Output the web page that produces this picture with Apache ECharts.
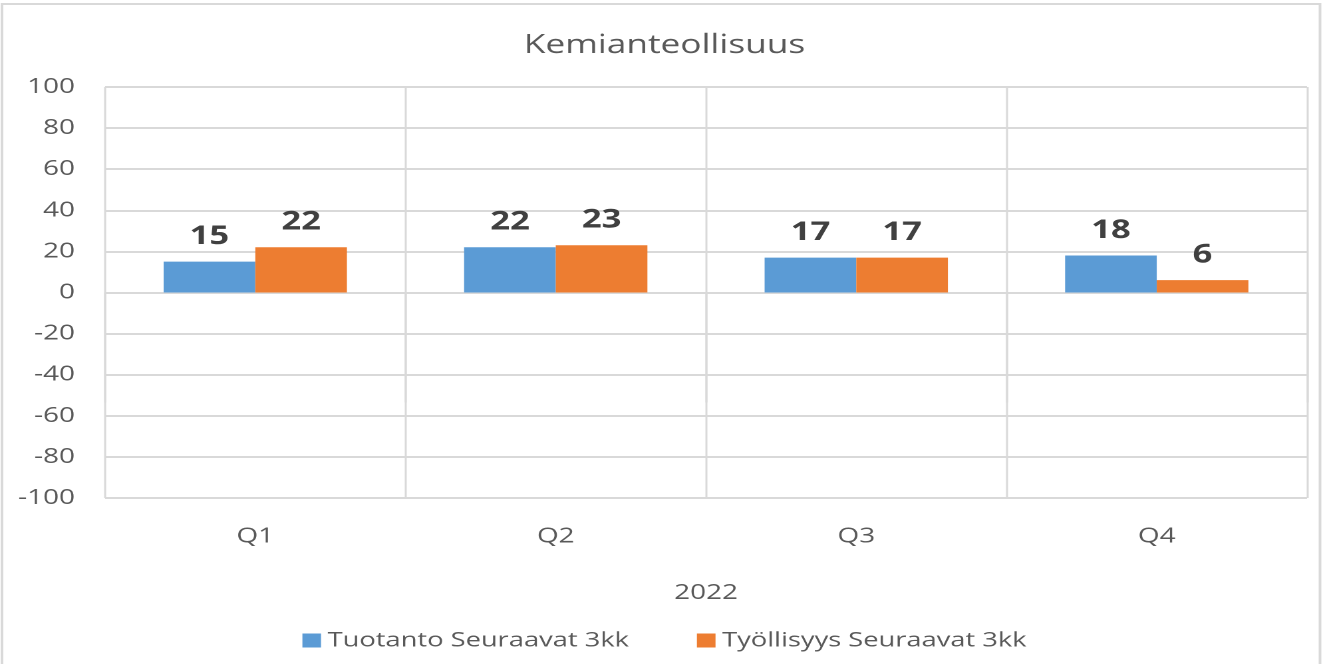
<!DOCTYPE html>
<html><head><meta charset="utf-8">
<script src="https://cdn.jsdelivr.net/npm/echarts@6/dist/echarts.min.js"></script>
<style>
html,body{margin:0;padding:0;background:#fff;overflow:hidden}
#c{width:999px;height:664px;transform:scaleX(1.3303);transform-origin:0 0}
</style>
</head><body><div id="c"></div>
<script>
const categories = ['Q1','Q2','Q3','Q4'];
const groupLabel = '2022';
const seriesNames = ['Tuotanto Seuraavat 3kk','Työllisyys Seuraavat 3kk'];
const tuotanto = [15, 22, 17, 18];
const tyollisyys = [22, 23, 17, 6];
const titleText = 'Kemianteollisuus';

const FONT = 'Open Sans';
const S = 1.3303; // horizontal stretch applied to the whole chart
const X = v => v / S;
const chart = echarts.init(document.getElementById('c'), null, {devicePixelRatio: 2});
const labelStyle = {show:true, position:'top', fontFamily:FONT, fontWeight:'bold', fontSize:26, color:'#404040', distance:12};
chart.setOption({
  animation:false,
  textStyle:{fontFamily:FONT},
  title:{text:titleText, left:'center', top:27, textStyle:{fontFamily:FONT, fontWeight:'normal', fontSize:26.5, color:'#595959'}},
  grid:{left:X(105), right:999 - X(1307), top:87, bottom:664-498, containLabel:false},
  legend:{top:625, left:'center', itemWidth:14, itemHeight:14, itemGap:X(68), icon:'rect',
    textStyle:{fontFamily:FONT, fontSize:20.5, color:'#595959'}},
  xAxis:{type:'category', data:categories,
    axisLine:{show:false},
    axisTick:{show:true, length:110, lineStyle:{color:'#d9d9d9', width:1.5}},
    splitLine:{show:true, lineStyle:{color:'#d9d9d9', width:1.5}},
    axisLabel:{fontFamily:FONT, fontSize:21, color:'#595959', margin:28}},
  yAxis:{type:'value', min:-100, max:100, interval:20,
    axisLine:{show:false}, axisTick:{show:false},
    splitLine:{lineStyle:{color:'#d9d9d9', width:2}},
    axisLabel:{fontFamily:FONT, fontSize:21, color:'#595959', margin:X(30)}},
  graphic:[
    {type:'rect', shape:{x:X(2), y:4, width:X(1318), height:700}, style:{fill:'none', stroke:'#d9d9d9', lineWidth:2}, z:-1},
    {type:'text', x:X(706), y:593, style:{text:groupLabel, font:'21px "Open Sans"', fill:'#595959', textAlign:'center', textVerticalAlign:'middle'}}
  ],
  series:[
    {name:seriesNames[0], type:'bar', data:tuotanto, barGap:'0%', barCategoryGap:'39%', itemStyle:{color:'#5b9bd5'}, label:labelStyle},
    {name:seriesNames[1], type:'bar', data:tyollisyys, itemStyle:{color:'#ed7d31'}, label:labelStyle}
  ]
});
</script></body></html>
